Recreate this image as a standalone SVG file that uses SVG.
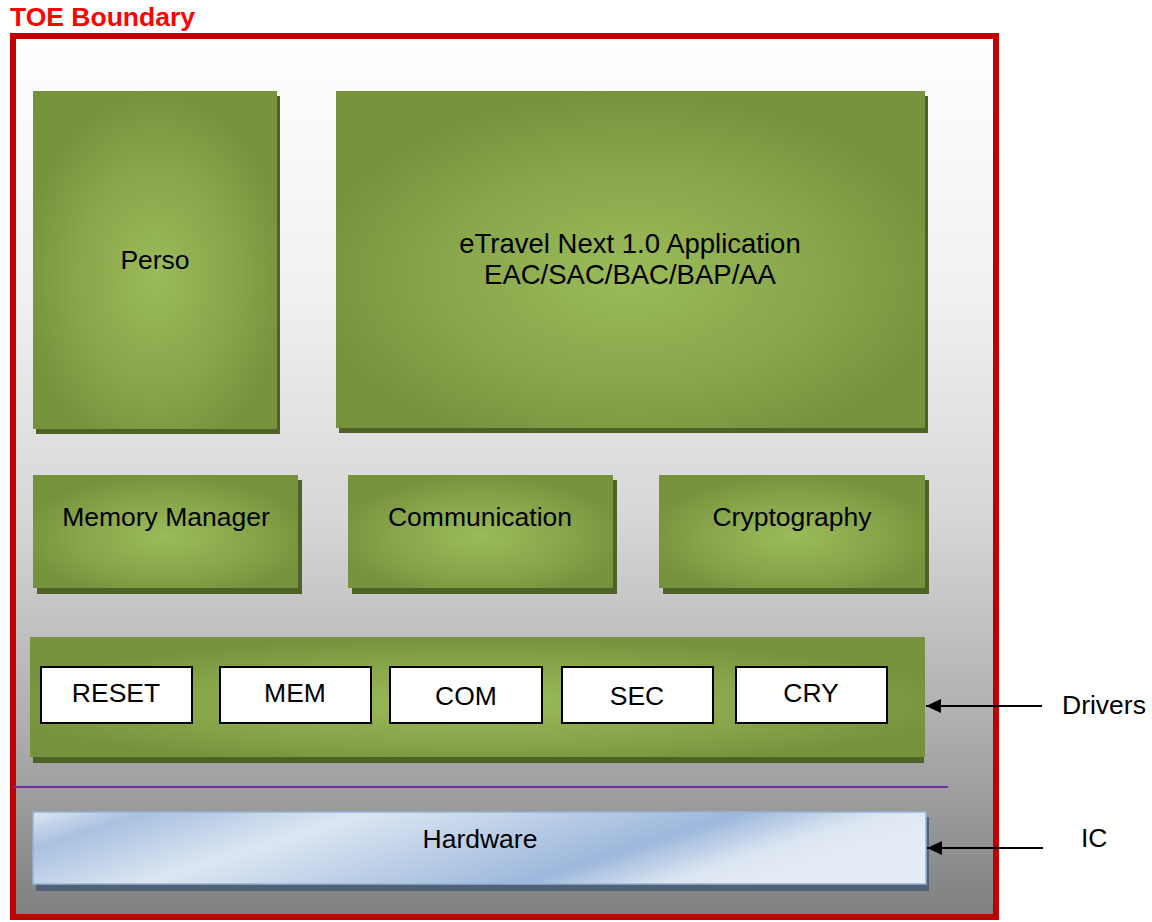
<svg xmlns="http://www.w3.org/2000/svg" width="1152" height="922" viewBox="0 0 1152 922">
<defs>
<linearGradient id="bg" x1="0" y1="0" x2="0" y2="1">
<stop offset="0" stop-color="#ffffff"/>
<stop offset="0.3" stop-color="#f0f0f0"/>
<stop offset="0.55" stop-color="#d6d6d6"/>
<stop offset="0.8" stop-color="#ababab"/>
<stop offset="1" stop-color="#7f7f7f"/>
</linearGradient>
<radialGradient id="green" cx="0.5" cy="0.55" r="0.55">
<stop offset="0" stop-color="#9bbb59"/>
<stop offset="0.6" stop-color="#88a54a"/>
<stop offset="1" stop-color="#76923c"/>
</radialGradient>
<linearGradient id="blue" x1="0" y1="0" x2="1" y2="0.25">
<stop offset="0" stop-color="#dce6f2"/>
<stop offset="0.12" stop-color="#a9c1e0"/>
<stop offset="0.35" stop-color="#dce6f2"/>
<stop offset="0.75" stop-color="#9db8dc"/>
<stop offset="0.9" stop-color="#dce6f2"/>
<stop offset="1" stop-color="#e4ecf6"/>
</linearGradient>
<marker id="arr" markerWidth="16" markerHeight="14" refX="15" refY="7" orient="auto" markerUnits="userSpaceOnUse">
<path d="M0,0 L15,7 L0,14 Z" fill="#000"/>
</marker>
</defs>
<style>
text{font-family:"Liberation Sans",Arial,sans-serif;font-size:26.5px;fill:#000;}
.g{fill:url(#green);}
.sh{fill:#4f6228;}
.w{fill:#fff;stroke:#000;stroke-width:2;}
.c{text-anchor:middle;}
.big{font-size:27.5px;}
</style>

<g id="boundary">
<rect x="13" y="36" width="983" height="881" fill="url(#bg)" stroke="#c00000" stroke-width="6"/>
<text x="10" y="26" style="font-weight:bold;fill:#ff0000;">TOE Boundary</text>
</g>

<g id="perso">
<rect class="sh" x="36" y="96" width="244" height="338"/>
<rect class="g" x="33" y="91" width="244" height="338"/>
<text class="c" x="155" y="269">Perso</text>
</g>

<g id="etravel">
<rect class="sh" x="339" y="96" width="589" height="337"/>
<rect class="g" x="336" y="91" width="589" height="337"/>
<text class="c big" x="630" y="253">eTravel Next 1.0 Application</text>
<text class="c big" x="630" y="284">EAC/SAC/BAC/BAP/AA</text>
</g>

<g id="memory-manager">
<rect class="sh" x="37" y="480" width="265" height="114"/>
<rect class="g" x="33" y="475" width="265" height="113"/>
<text class="c" x="166" y="526">Memory Manager</text>
</g>

<g id="communication">
<rect class="sh" x="352" y="480" width="265" height="114"/>
<rect class="g" x="348" y="475" width="265" height="113"/>
<text class="c" x="480" y="526">Communication</text>
</g>

<g id="cryptography">
<rect class="sh" x="663" y="480" width="266" height="114"/>
<rect class="g" x="659" y="475" width="266" height="113"/>
<text class="c" x="792" y="526">Cryptography</text>
</g>

<g id="drivers">
<rect class="sh" x="33" y="642" width="891" height="121"/>
<rect class="g" x="30" y="637" width="895" height="120"/>
<g id="reset"><rect class="w" x="41" y="667" width="151" height="56"/><text class="c" x="116" y="702">RESET</text></g>
<g id="mem"><rect class="w" x="220" y="667" width="151" height="56"/><text class="c" x="295" y="702">MEM</text></g>
<g id="com"><rect class="w" x="390" y="667" width="152" height="56"/><text class="c" x="466" y="705">COM</text></g>
<g id="sec"><rect class="w" x="562" y="667" width="151" height="56"/><text class="c" x="637" y="705">SEC</text></g>
<g id="cry"><rect class="w" x="736" y="667" width="151" height="56"/><text class="c" x="811" y="702">CRY</text></g>
</g>

<g id="separator">
<line x1="13" y1="787" x2="948" y2="787" stroke="#7030a0" stroke-width="2"/>
</g>

<g id="hardware">
<rect x="36" y="817" width="893" height="74" fill="#536175"/>
<rect x="33" y="812" width="893" height="72" fill="url(#blue)" stroke="#95b3d7" stroke-width="1.5"/>
<text class="c" x="480" y="848">Hardware</text>
</g>

<g id="labels">
<text x="1062" y="714">Drivers</text>
<text x="1081" y="847">IC</text>
</g>

<g id="connectors" stroke="#000" stroke-width="2" fill="none">
<line x1="1042" y1="706" x2="926" y2="706" marker-end="url(#arr)"/>
<line x1="1043" y1="848" x2="927" y2="848" marker-end="url(#arr)"/>
</g>
</svg>
